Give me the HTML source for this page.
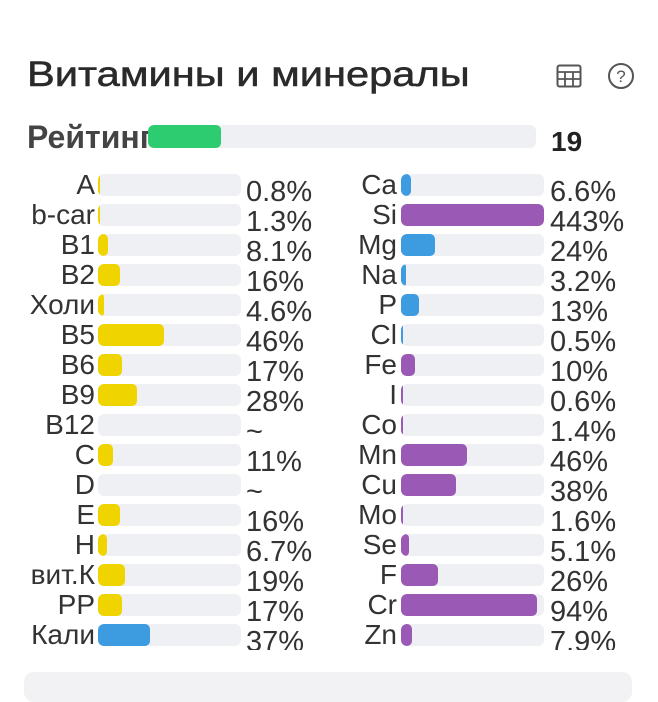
<!DOCTYPE html><html><head><meta charset="utf-8"><style>
body{margin:0;width:658px;height:680px;background:#fff;position:relative;overflow:hidden;font-family:"Liberation Sans","DejaVu Sans",sans-serif;color:#333}
.a{position:absolute;white-space:nowrap}
.lb{position:absolute;text-align:right;font-size:28px;line-height:30px;color:#333}
.tr{position:absolute;height:22px;background:#eff0f3;border-radius:6px;overflow:hidden}
.f{height:100%;border-radius:5px}
.v{position:absolute;font-size:29px;line-height:30px;color:#333}
</style></head><body>
<div class="a" style="left:27px;top:53px;font-size:35px;line-height:44px;color:#2a2a2a;transform:scaleX(1.19);transform-origin:left;-webkit-text-stroke:0.5px #2a2a2a">Витамины и минералы</div>
<svg class="a" style="left:556px;top:64px" width="26" height="24"><rect x="1.5" y="1.5" width="23" height="21" rx="2" fill="none" stroke="#555" stroke-width="2"/><path d="M1.5 8h23M1.5 15h23M9 8v14M17 8v14" stroke="#555" stroke-width="1.8"/></svg>
<svg class="a" style="left:607px;top:62px" width="28" height="28"><circle cx="14" cy="14" r="12" fill="none" stroke="#555" stroke-width="2"/><text x="14" y="20" text-anchor="middle" font-size="17" fill="#555" font-family="Liberation Sans">?</text></svg>
<div class="a" style="left:27px;top:118px;font-size:32px;line-height:38px;font-weight:bold;color:#444;width:121px;overflow:hidden">Рейтинг</div>
<div class="tr" style="left:148px;top:125px;width:388px;height:23px"><div class="f" style="width:73px;background:#2ecc71"></div></div>
<div class="a" style="left:551px;top:124px;font-size:28px;line-height:36px;font-weight:bold;color:#222">19</div>
<div class="a" style="left:0;top:170px;width:658px;height:480px;overflow:hidden" id="list"></div>
<div class="a" style="left:24px;top:672px;width:608px;height:30px;background:#f2f2f4;border-radius:10px"></div>
<script>
var L=[["A",2,"#f0d400","0.8%"],["b-car",2,"#f0d400","1.3%"],["B1",10,"#f0d400","8.1%"],["B2",22,"#f0d400","16%"],["Холи",6,"#f0d400","4.6%"],["B5",66,"#f0d400","46%"],["B6",24,"#f0d400","17%"],["B9",39,"#f0d400","28%"],["B12",0,"#f0d400","~"],["C",15,"#f0d400","11%"],["D",0,"#f0d400","~"],["E",22,"#f0d400","16%"],["H",9,"#f0d400","6.7%"],["вит.К",27,"#f0d400","19%"],["PP",24,"#f0d400","17%"],["Кали",52,"#3d9be0","37%"]];
var R=[["Ca",10,"#3d9be0","6.6%"],["Si",143,"#9b59b6","443%"],["Mg",34,"#3d9be0","24%"],["Na",5,"#3d9be0","3.2%"],["P",18,"#3d9be0","13%"],["Cl",2,"#3d9be0","0.5%"],["Fe",14,"#9b59b6","10%"],["I",2,"#9b59b6","0.6%"],["Co",2,"#9b59b6","1.4%"],["Mn",66,"#9b59b6","46%"],["Cu",55,"#9b59b6","38%"],["Mo",2,"#9b59b6","1.6%"],["Se",8,"#9b59b6","5.1%"],["F",37,"#9b59b6","26%"],["Cr",136,"#9b59b6","94%"],["Zn",11,"#9b59b6","7.9%"]];
var h="";
function col(arr,lx,bx,vx){arr.forEach(function(r,i){var y=4+30*i;
h+='<div class="lb" style="left:'+(lx-120)+'px;width:120px;top:'+(y-4)+'px;overflow:hidden">'+r[0]+'</div>';
h+='<div class="tr" style="left:'+bx+'px;top:'+y+'px;width:143px"><div class="f" style="width:'+r[1]+'px;background:'+r[2]+'"></div></div>';
h+='<div class="v" style="left:'+vx+'px;top:'+(y+3)+'px">'+r[3]+'</div>';});}
col(L,95,98,246);col(R,397,401,550);
document.getElementById("list").innerHTML=h;
</script>
</body></html>
